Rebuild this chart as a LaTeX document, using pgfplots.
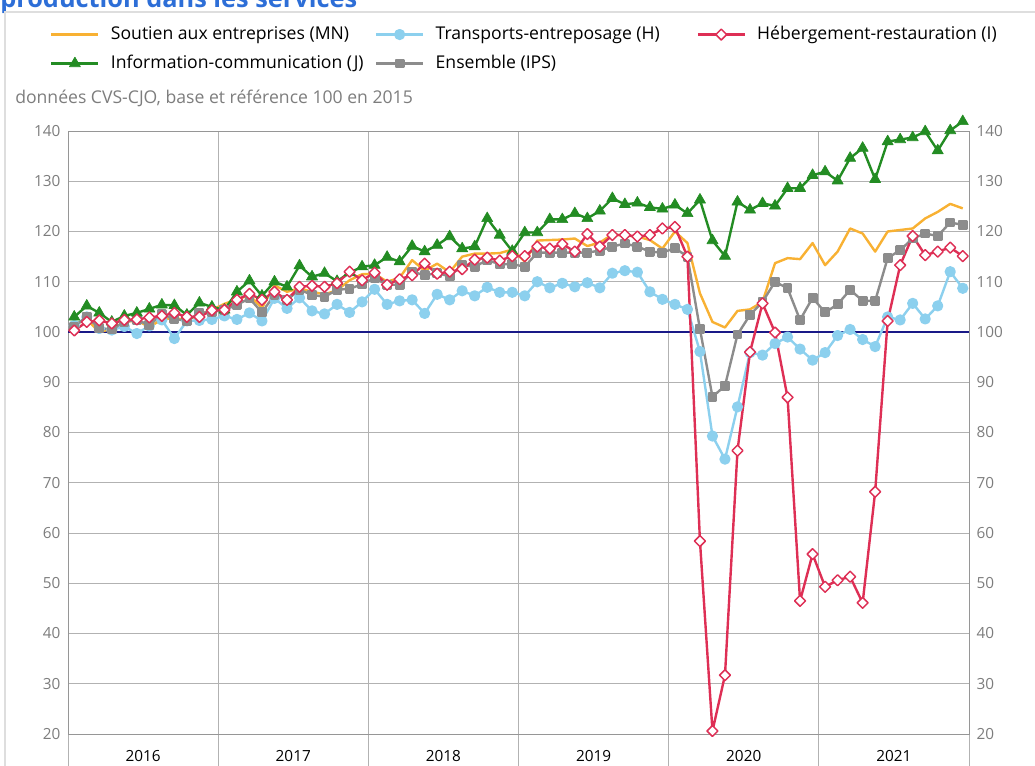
\documentclass[border=0pt]{standalone}
\usepackage{pgfplots}
\pgfplotsset{compat=1.18}
\usepackage{pgfplotstable}
\usepackage{fontspec}
\setmainfont{Open Sans}
\definecolor{cMN}{RGB}{248,177,51}
\definecolor{cH}{RGB}{140,208,238}
\definecolor{cI}{RGB}{222,47,85}
\definecolor{cJ}{RGB}{35,140,35}
\definecolor{cIPS}{RGB}{140,140,140}
\definecolor{navy100}{RGB}{25,25,135}
\definecolor{gridc}{RGB}{178,178,178}
\definecolor{axisc}{RGB}{150,150,150}
\definecolor{labc}{RGB}{125,125,125}
\definecolor{framec}{RGB}{222,222,222}
\definecolor{titlec}{RGB}{45,110,215}

\pgfplotstableread{
m mn h i j ips
0 101.5 101.3 100.3 103.0 101.1
1 102.5 103.0 102.0 105.2 103.0
2 100.0 100.7 102.3 103.8 100.8
3 100.6 100.4 101.7 102.0 100.5
4 102.0 101.1 102.4 103.2 102.0
5 102.3 99.7 102.5 103.8 102.4
6 101.0 101.2 102.9 104.6 101.4
7 102.5 102.4 103.2 105.4 103.5
8 102.8 98.7 103.8 105.3 102.6
9 102.3 102.2 103.0 103.4 102.2
10 103.5 102.3 103.0 105.8 103.8
11 104.4 102.5 104.3 105.0 104.0
12 105.6 103.2 104.4 104.4 104.4
13 106.5 102.5 106.4 108.0 105.4
14 107.3 103.8 107.6 110.2 106.7
15 104.8 102.2 106.4 107.2 103.9
16 109.3 106.7 108.0 110.0 107.4
17 108.0 104.7 106.4 109.0 106.4
18 108.7 106.8 109.0 113.2 108.4
19 108.0 104.2 109.2 111.0 107.4
20 107.5 103.6 109.0 111.7 107.0
21 108.3 105.5 109.7 110.1 108.4
22 110.3 103.9 112.0 111.8 108.6
23 111.5 106.0 110.3 113.0 109.5
24 111.6 108.5 111.8 113.3 110.7
25 110.0 105.5 109.4 114.9 109.4
26 110.8 106.2 110.5 114.0 109.4
27 114.3 106.4 111.3 117.1 112.0
28 112.2 103.7 113.6 116.0 111.3
29 113.6 107.5 111.6 117.3 111.7
30 111.9 106.4 112.0 119.0 111.1
31 115.0 108.2 112.5 116.6 113.3
32 115.6 107.2 114.4 117.0 113.0
33 115.6 108.9 114.8 122.6 114.3
34 115.7 107.9 114.2 119.3 113.5
35 116.4 107.9 115.1 116.1 113.5
36 114.0 107.2 115.1 119.8 113.0
37 118.2 110.0 117.0 119.8 115.8
38 118.3 108.8 116.6 122.4 115.8
39 118.4 109.7 117.5 122.4 115.8
40 118.6 109.0 116.0 123.6 115.8
41 117.1 109.8 119.5 122.6 115.8
42 117.8 108.8 117.0 124.1 116.2
43 119.4 111.7 119.3 126.6 117.0
44 119.2 112.2 119.3 125.4 117.6
45 119.0 111.9 119.0 125.7 117.0
46 118.3 108.0 119.3 124.8 116.0
47 116.6 106.5 120.6 124.5 115.8
48 120.0 105.5 120.9 125.3 116.7
49 117.7 104.5 115.0 123.6 115.0
50 107.7 96.1 58.4 126.3 100.6
51 102.0 79.3 20.6 118.2 87.1
52 100.9 74.7 31.7 115.1 89.3
53 104.2 85.1 76.4 125.9 99.5
54 104.5 95.9 96.0 124.3 103.4
55 106.0 95.4 105.7 125.6 106.0
56 113.7 97.7 99.9 125.1 110.0
57 114.7 99.0 87.0 128.6 108.7
58 114.5 96.6 46.5 128.6 102.4
59 117.7 94.4 55.8 131.2 106.8
60 113.3 95.9 49.3 131.9 103.9
61 116.0 99.3 50.6 130.1 105.5
62 120.6 100.5 51.3 134.6 108.4
63 119.6 98.5 46.1 136.6 106.2
64 116.0 97.1 68.2 130.4 106.2
65 120.0 103.0 102.2 137.9 114.7
66 120.3 102.4 113.3 138.3 116.3
67 120.6 105.7 119.1 138.7 118.6
68 122.6 102.6 115.3 139.9 119.6
69 123.9 105.2 116.0 136.1 119.1
70 125.5 112.0 116.8 140.1 121.8
71 124.6 108.7 115.1 141.9 121.3
}\data

\pgfplotsset{
  base/.style={
    at={(51pt,23.25pt)}, anchor=south west,
    scale only axis, width=675.75pt, height=452.25pt,
    xmin=-0.5, xmax=71.5, ymin=20, ymax=140,
    ytick={20,30,...,140},
    /pgf/number format/assume math mode=true,
    tick align=outside,
    major tick length=0pt,
    minor tick length=24pt,
    axis line style={draw=axisc, line width=0.75pt},
    yticklabel style={font=\fontsize{11.5}{13.8}\selectfont, text=labc},
  },
  ser/.style={line width=1.8pt, line join=round},
}

\begin{document}
\begin{tikzpicture}
\useasboundingbox (0pt,0pt) rectangle (776.25pt,573.75pt);
\clip (0pt,0pt) rectangle (776.25pt,573.75pt);
\node[anchor=base west, inner sep=0pt, text=titlec, font=\fontsize{19}{22}\selectfont\bfseries] at (0pt,567.75pt) {production dans les services};
\draw[framec, line width=1.5pt] (3.75pt,-2pt) -- (3.75pt,565pt) -- (780pt,565pt);
\node[anchor=base west, inner sep=0pt, text=labc, font=\fontsize{13.2}{15.8}\selectfont] at (11.25pt,496.1pt) {données CVS-CJO, base et référence 100 en 2015};

\begin{axis}[base,
  clip=false,
  xtick={5.5,17.5,29.5,41.5,53.5,65.5},
  xticklabels={2016,2017,2018,2019,2020,2021},
  minor xtick={-0.5,11.5,23.5,35.5,47.5,59.5,71.5},
  xtick pos=bottom,
  ytick pos=left,
  minor x tick style={draw=gridc, line width=0.75pt},
  xminorgrids=true, ymajorgrids=true,
  grid style={draw=gridc, line width=0.75pt},
  minor grid style={draw=gridc, line width=0.75pt},
  xticklabel style={font=\fontsize{11.5}{13.8}\selectfont, text=black, anchor=base, yshift=-20.25pt},
  yticklabel style={xshift=-2.2pt},
  legend columns=3,
  legend cell align=left,
  legend style={at={(-0.020,1.1748)}, anchor=north west, draw=none, fill=none,
    inner sep=0pt,
    font=\fontsize{13.2}{15.8}\selectfont,
    nodes={inner sep=0pt, text height=10pt, text depth=3pt},
    column sep=8.5pt, row sep=8.75pt},
  legend image code/.code={\draw[mark repeat=2,mark phase=2,#1] plot coordinates {(0pt,0pt) (17.6pt,0pt) (35.2pt,0pt)};},
]
\addlegendimage{ser, cMN}
\addlegendentry{Soutien aux entreprises (MN)}
\addlegendimage{ser, cH, mark=*, mark size=3.3pt, mark options={solid, fill=cH, draw=cH}}
\addlegendentry{Transports-entreposage (H)\rule{19pt}{0pt}}
\addlegendimage{ser, cI, mark=square*, mark size=2.9pt, mark options={solid, rotate=45, fill=white, draw=cI, line width=1.1pt}}
\addlegendentry{Hébergement-restauration (I)}
\addlegendimage{ser, cJ, mark=triangle*, mark size=4.8pt, mark options={solid, fill=cJ, draw=cJ, line width=0.5pt}}
\addlegendentry{Information-communication (J)}
\addlegendimage{ser, cIPS, mark=square*, mark size=2.8pt, mark options={solid, fill=cIPS, draw=cIPS}}
\addlegendentry{Ensemble (IPS)}

\draw[navy100, line width=1.2pt] (axis cs:-0.5,100) -- (axis cs:71.5,100);

\addplot[ser, cH, mark=*, mark size=3.3pt, mark options={solid, fill=cH, draw=cH}, forget plot] table[x=m, y=h] {\data};
\addplot[ser, cMN, forget plot] table[x=m, y=mn] {\data};
\addplot[ser, cIPS, mark=square*, mark size=2.8pt, mark options={solid, fill=cIPS, draw=cIPS}, forget plot] table[x=m, y=ips] {\data};
\addplot[ser, cJ, mark=triangle*, mark size=4.8pt, mark options={solid, fill=cJ, draw=cJ, line width=0.5pt}, forget plot] table[x=m, y=j] {\data};
\addplot[ser, cI, mark=square*, mark size=2.9pt, mark options={solid, rotate=45, fill=white, draw=cI, line width=1.1pt}, forget plot] table[x=m, y=i] {\data};
\end{axis}

\begin{axis}[base,
  hide x axis,
  axis y line*=right,
  ytick pos=right,
  yticklabel pos=right,
  yticklabel style={xshift=2.2pt},
]
\end{axis}
\end{tikzpicture}
\end{document}
